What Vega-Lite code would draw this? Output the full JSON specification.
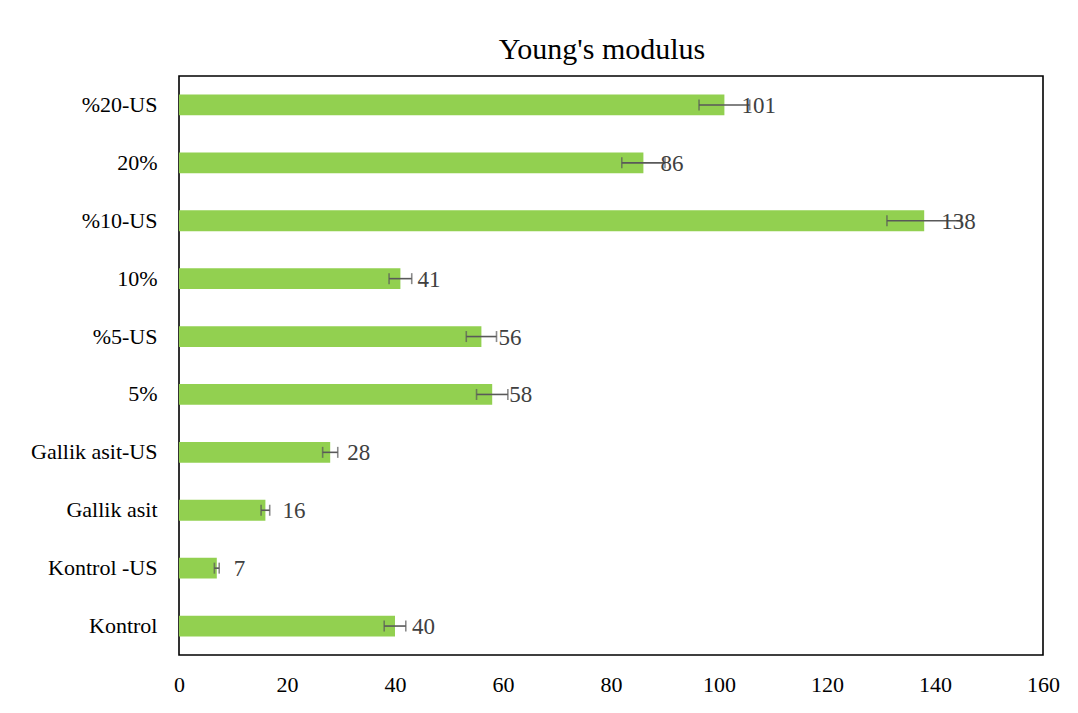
{
  "$schema": "https://vega.github.io/schema/vega-lite/v6.json",
  "autosize": "none",
  "width": 864,
  "height": 579,
  "padding": {"left": 179, "top": 76, "right": 35, "bottom": 58},
  "background": "white",
  "title": {"text": "Young's modulus", "font": "Liberation Serif", "fontSize": 30, "fontWeight": "normal", "color": "#000000", "offset": 11, "anchor": "middle", "dx": -9},
  "config": {
    "view": {"stroke": "#000000", "strokeWidth": 1.6},
    "axis": {"grid": false, "domain": false, "ticks": false, "labelFont": "Liberation Serif", "labelFontSize": 22, "labelColor": "#000000", "title": null}
  },
  "data": {"values": [
    {"cat": "%20-US", "value": 101, "err": 4.7},
    {"cat": "20%", "value": 86, "err": 4.0},
    {"cat": "%10-US", "value": 138, "err": 6.9},
    {"cat": "10%", "value": 41, "err": 2.1},
    {"cat": "%5-US", "value": 56, "err": 2.8},
    {"cat": "5%", "value": 58, "err": 2.9},
    {"cat": "Gallik asit-US", "value": 28, "err": 1.4},
    {"cat": "Gallik asit", "value": 16, "err": 0.8},
    {"cat": "Kontrol -US", "value": 7, "err": 0.45},
    {"cat": "Kontrol", "value": 40, "err": 2.0}
  ]},
  "encoding": {
    "y": {"field": "cat", "type": "nominal", "sort": null,
      "scale": {"paddingInner": 0.64, "paddingOuter": 0.32},
      "axis": {"labelPadding": 22, "title": null}}
  },
  "layer": [
    {
      "mark": {"type": "bar", "color": "#92D050"},
      "encoding": {
        "x": {"field": "value", "type": "quantitative",
          "scale": {"domain": [0, 160], "nice": false},
          "axis": {"values": [0, 20, 40, 60, 80, 100, 120, 140, 160], "labelPadding": 19, "labelFlush": false, "title": null}}
      }
    },
    {
      "mark": {"type": "errorbar", "ticks": {"size": 11, "color": "#595959", "thickness": 1.6}, "rule": {"color": "#595959", "strokeWidth": 1.6}},
      "encoding": {
        "x": {"field": "value", "type": "quantitative", "title": null},
        "xError": {"field": "err"}
      }
    },
    {
      "mark": {"type": "text", "align": "left", "baseline": "middle", "dx": 17, "dy": 1, "font": "Liberation Serif", "fontSize": 23, "color": "#404040"},
      "encoding": {
        "x": {"field": "value", "type": "quantitative", "title": null},
        "text": {"field": "value", "type": "quantitative"}
      }
    }
  ]
}
